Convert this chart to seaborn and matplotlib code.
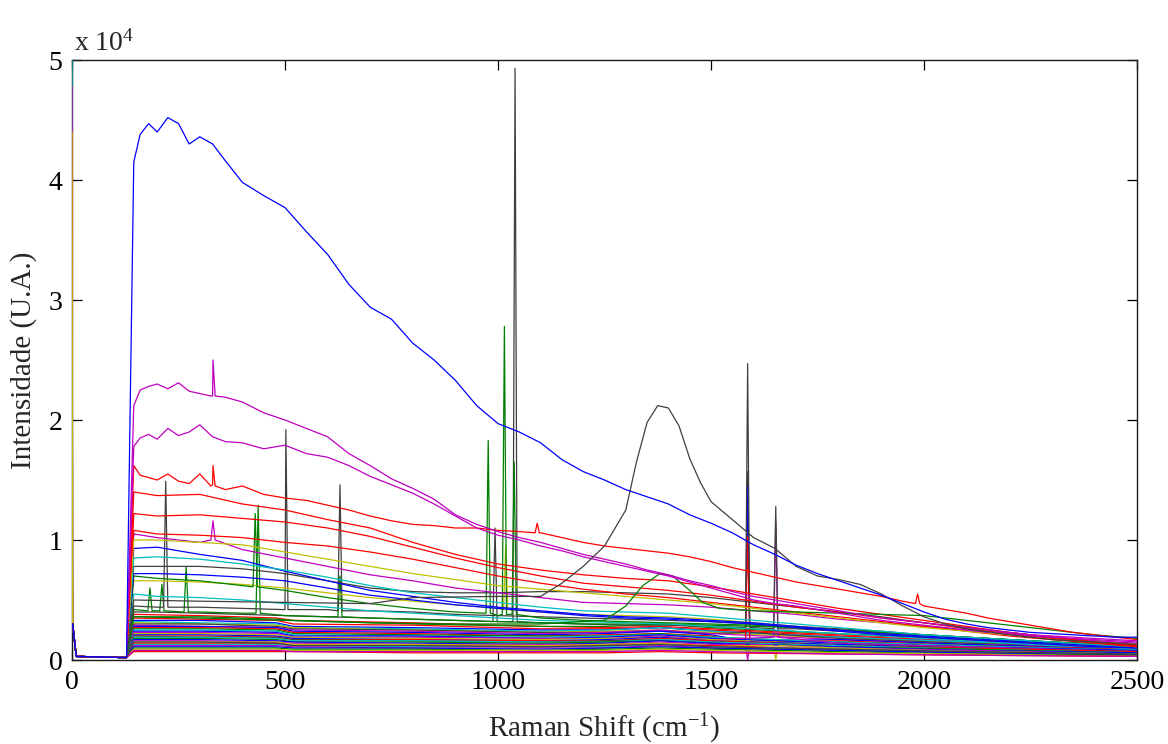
import numpy as np
import pandas as pd
import matplotlib
matplotlib.use("Agg")
import matplotlib.pyplot as plt
import seaborn as sns

# ---------------------------------------------------------------------------
# Raman spectra (intensity in units of 10^4 counts)
# ---------------------------------------------------------------------------
# Detector cut-off region shared by every spectrum (level at 0 cm-1 is per trace)
cutoff_shift = [0, 1.5, 10, 128]
cutoff_level = [None, 0.30, 0.03, 0.02]

# Fine grid used for the strongest spectra
main_shift = [145, 160, 180, 200, 225, 250, 275, 300, 330, 360,
              400, 450, 500, 550, 600, 650, 700, 750, 800, 850,
              900, 950, 1000, 1050, 1100, 1150, 1200, 1250, 1300, 1350,
              1400, 1450, 1500, 1550, 1600, 1650, 1700, 1750, 1800, 1850,
              1900, 1950, 2000, 2050, 2100, 2150, 2200, 2250, 2300, 2350,
              2400, 2450, 2500]

blue_top = [4.15, 4.38, 4.47, 4.40, 4.52, 4.47, 4.30, 4.36, 4.30, 4.16,
            3.98, 3.87, 3.77, 3.57, 3.38, 3.13, 2.94, 2.84, 2.64, 2.50,
            2.33, 2.12, 1.97, 1.90, 1.81, 1.67, 1.57, 1.50, 1.42, 1.36,
            1.30, 1.21, 1.14, 1.06, 0.96, 0.88, 0.79, 0.72, 0.66, 0.60,
            0.54, 0.47, 0.40, 0.34, 0.30, 0.27, 0.25, 0.23, 0.22, 0.21,
            0.20, 0.19, 0.19]

magenta_top = [2.12, 2.25, 2.28, 2.30, 2.26, 2.31, 2.24, 2.22, 2.20, 2.19,
               2.15, 2.06, 2.00, 1.93, 1.86, 1.72, 1.62, 1.51, 1.43, 1.34,
               1.21, 1.13, 1.07, 1.02, 0.98, 0.93, 0.88, 0.84, 0.80, 0.75,
               0.71, 0.66, 0.62, 0.57, 0.53, 0.50, 0.47, 0.44, 0.41, 0.38,
               0.35, 0.33, 0.31, 0.29, 0.27, 0.25, 0.23, 0.21, 0.20, 0.19,
               0.18, 0.17, 0.16]

magenta_second = [1.78, 1.85, 1.88, 1.84, 1.93, 1.87, 1.90, 1.96, 1.86, 1.82,
                  1.81, 1.76, 1.79, 1.72, 1.69, 1.62, 1.53, 1.46, 1.39, 1.30,
                  1.20, 1.10, 1.04, 1.00, 0.95, 0.91, 0.86, 0.82, 0.78, 0.74,
                  0.70, 0.65, 0.60, 0.55, 0.50, 0.47, 0.45, 0.42, 0.39, 0.36,
                  0.33, 0.31, 0.29, 0.27, 0.25, 0.23, 0.22, 0.20, 0.19, 0.18,
                  0.17, 0.16, 0.15]

red_first = [1.62, 1.54, 1.52, 1.50, 1.55, 1.49, 1.47, 1.55, 1.46, 1.42,
             1.45, 1.38, 1.35, 1.33, 1.29, 1.25, 1.20, 1.16, 1.13, 1.12,
             1.10, 1.10, 1.08, 1.07, 1.06, 1.02, 0.98, 0.95, 0.93, 0.91,
             0.89, 0.86, 0.82, 0.77, 0.73, 0.69, 0.65, 0.62, 0.59, 0.56,
             0.53, 0.49, 0.45, 0.42, 0.39, 0.35, 0.32, 0.29, 0.26, 0.23,
             0.21, 0.19, 0.17]

# Broad fluorescence bands
grey_band_shift = [145, 300, 500, 700, 800, 1000, 1100, 1150, 1200, 1250,
                   1300, 1325, 1350, 1375, 1400, 1425, 1450, 1475, 1500, 1550,
                   1600, 1650, 1700, 1750, 1800, 1850, 1900, 1950, 2000, 2050,
                   2100, 2200, 2300, 2400, 2500]
grey_band = [0.50, 0.49, 0.48, 0.47, 0.52, 0.53, 0.53, 0.64, 0.78, 0.95,
             1.25, 1.65, 1.98, 2.12, 2.10, 1.95, 1.68, 1.48, 1.32, 1.17,
             1.02, 0.93, 0.78, 0.70, 0.67, 0.63, 0.55, 0.45, 0.36, 0.30,
             0.26, 0.21, 0.17, 0.15, 0.13]

green_band_shift = [145, 300, 500, 700, 900, 1100, 1250, 1300, 1340, 1380,
                    1410, 1450, 1480, 1520, 1600, 1700, 1800, 1900, 2000, 2100,
                    2200, 2300, 2400, 2500]
green_band = [0.36, 0.35, 0.33, 0.31, 0.30, 0.30, 0.33, 0.45, 0.62, 0.72,
              0.70, 0.58, 0.48, 0.43, 0.41, 0.40, 0.39, 0.38, 0.37, 0.33,
              0.29, 0.25, 0.21, 0.18]

# Coarser grid for the intermediate spectra
coarse_shift = [145, 200, 300, 400, 500, 600, 700, 800, 900, 1000,
                1100, 1200, 1300, 1400, 1500, 1600, 1700, 1800, 1900, 2000,
                2100, 2200, 2300, 2400, 2500]

red_second = [1.40, 1.37, 1.38, 1.30, 1.25, 1.17, 1.10, 0.98, 0.88, 0.80, 0.75, 0.71, 0.68,
              0.66, 0.61, 0.55, 0.49, 0.43, 0.38, 0.33, 0.28, 0.23, 0.19, 0.15, 0.12]
red_third = [1.22, 1.20, 1.21, 1.18, 1.15, 1.10, 1.03, 0.94, 0.85, 0.77, 0.70, 0.64, 0.61,
             0.58, 0.54, 0.49, 0.44, 0.40, 0.35, 0.31, 0.26, 0.22, 0.18, 0.15, 0.12]
red_fourth = [1.08, 1.05, 1.04, 1.02, 0.98, 0.95, 0.90, 0.84, 0.77, 0.70, 0.64, 0.59, 0.55,
              0.52, 0.48, 0.44, 0.40, 0.36, 0.32, 0.28, 0.24, 0.20, 0.17, 0.14, 0.11]
magenta_third = [1.05, 1.02, 0.98, 0.92, 0.85, 0.78, 0.71, 0.66, 0.60, 0.56, 0.52, 0.48, 0.47,
                 0.46, 0.44, 0.41, 0.38, 0.34, 0.31, 0.28, 0.25, 0.22, 0.19, 0.16, 0.14]
yellow_first = [1.00, 1.00, 0.98, 0.96, 0.90, 0.84, 0.78, 0.72, 0.67, 0.62, 0.59, 0.56, 0.53,
                0.50, 0.47, 0.43, 0.39, 0.35, 0.31, 0.27, 0.24, 0.21, 0.18, 0.15, 0.13]
blue_second = [0.93, 0.94, 0.88, 0.83, 0.74, 0.66, 0.58, 0.53, 0.48, 0.44, 0.41, 0.38, 0.36,
               0.35, 0.33, 0.31, 0.28, 0.25, 0.22, 0.20, 0.18, 0.16, 0.14, 0.12, 0.10]
cyan_first = [0.85, 0.86, 0.84, 0.80, 0.75, 0.69, 0.62, 0.56, 0.52, 0.48, 0.44, 0.41, 0.40,
              0.39, 0.36, 0.33, 0.30, 0.27, 0.24, 0.21, 0.19, 0.17, 0.15, 0.13, 0.11]
grey_first = [0.78, 0.78, 0.78, 0.76, 0.72, 0.66, 0.60, 0.57, 0.56, 0.56, 0.57, 0.57, 0.56,
              0.55, 0.52, 0.48, 0.44, 0.40, 0.36, 0.31, 0.27, 0.23, 0.19, 0.16, 0.13]
blue_third = [0.72, 0.72, 0.71, 0.69, 0.66, 0.60, 0.54, 0.50, 0.46, 0.43, 0.40, 0.37, 0.35,
              0.34, 0.32, 0.30, 0.27, 0.24, 0.21, 0.19, 0.17, 0.15, 0.13, 0.11, 0.10]
green_first = [0.70, 0.68, 0.66, 0.62, 0.58, 0.52, 0.47, 0.43, 0.40, 0.37, 0.35, 0.33, 0.32,
               0.31, 0.30, 0.29, 0.27, 0.25, 0.23, 0.21, 0.19, 0.17, 0.15, 0.13, 0.11]
yellow_second = [0.66, 0.66, 0.65, 0.63, 0.60, 0.56, 0.52, 0.49, 0.46, 0.43, 0.40, 0.38, 0.37,
                 0.36, 0.34, 0.31, 0.28, 0.25, 0.22, 0.20, 0.18, 0.16, 0.14, 0.12, 0.10]
cyan_second = [0.55, 0.53, 0.52, 0.50, 0.47, 0.44, 0.41, 0.39, 0.37, 0.35, 0.33, 0.32, 0.31,
               0.30, 0.28, 0.26, 0.24, 0.22, 0.20, 0.18, 0.16, 0.14, 0.12, 0.11, 0.09]
grey_second = [0.45, 0.44, 0.44, 0.43, 0.42, 0.42, 0.41, 0.40, 0.38, 0.37, 0.36, 0.35, 0.34,
               0.33, 0.32, 0.30, 0.28, 0.26, 0.24, 0.21, 0.19, 0.17, 0.15, 0.13, 0.11]
green_second = [0.42, 0.41, 0.40, 0.39, 0.37, 0.36, 0.35, 0.34, 0.33, 0.32, 0.31, 0.30, 0.30,
                0.30, 0.29, 0.28, 0.27, 0.25, 0.23, 0.21, 0.19, 0.17, 0.15, 0.13, 0.11]
grey_third = [0.40, 0.40, 0.39, 0.38, 0.37, 0.36, 0.35, 0.34, 0.33, 0.32, 0.31, 0.30, 0.29,
              0.29, 0.28, 0.27, 0.26, 0.24, 0.22, 0.20, 0.18, 0.16, 0.14, 0.12, 0.10]

# Weak spectra forming the dense band near the baseline
bulk_shift = [145, 300, 480, 520, 800, 1100, 1250, 1380, 1500, 1800, 2100, 2500]
bulk_colors = ["r", "g", "r", "b", "c", "y", "k", "m", "b", "r", "g", "c", "b", "m", "y", "b",
               "r", "k", "c", "g", "b", "m", "y", "r", "c", "m", "b", "g", "y", "r", "m", "k"]
bulk_levels = [
    [0.38, 0.37, 0.35, 0.33, 0.31, 0.28, 0.27, 0.28, 0.26, 0.21, 0.17, 0.12],
    [0.36, 0.36, 0.34, 0.33, 0.30, 0.28, 0.28, 0.30, 0.27, 0.22, 0.17, 0.13],
    [0.35, 0.34, 0.33, 0.30, 0.29, 0.26, 0.26, 0.27, 0.25, 0.20, 0.16, 0.12],
    [0.33, 0.33, 0.31, 0.28, 0.27, 0.25, 0.25, 0.27, 0.24, 0.19, 0.15, 0.11],
    [0.32, 0.31, 0.30, 0.27, 0.26, 0.24, 0.25, 0.27, 0.24, 0.19, 0.15, 0.11],
    [0.31, 0.30, 0.29, 0.27, 0.25, 0.23, 0.24, 0.25, 0.23, 0.18, 0.14, 0.10],
    [0.30, 0.30, 0.28, 0.26, 0.25, 0.23, 0.23, 0.24, 0.22, 0.18, 0.14, 0.10],
    [0.29, 0.28, 0.27, 0.25, 0.24, 0.22, 0.23, 0.25, 0.22, 0.17, 0.13, 0.10],
    [0.28, 0.28, 0.27, 0.24, 0.23, 0.21, 0.22, 0.24, 0.21, 0.17, 0.13, 0.09],
    [0.27, 0.27, 0.26, 0.23, 0.22, 0.20, 0.21, 0.22, 0.20, 0.16, 0.12, 0.09],
    [0.26, 0.26, 0.25, 0.22, 0.21, 0.20, 0.20, 0.22, 0.19, 0.15, 0.12, 0.08],
    [0.25, 0.25, 0.24, 0.21, 0.20, 0.19, 0.20, 0.21, 0.19, 0.15, 0.12, 0.08],
    [0.24, 0.24, 0.23, 0.20, 0.20, 0.18, 0.19, 0.21, 0.18, 0.14, 0.11, 0.08],
    [0.23, 0.23, 0.22, 0.19, 0.19, 0.18, 0.18, 0.20, 0.17, 0.14, 0.11, 0.07],
    [0.22, 0.22, 0.21, 0.19, 0.18, 0.17, 0.18, 0.19, 0.17, 0.13, 0.10, 0.07],
    [0.21, 0.21, 0.20, 0.18, 0.17, 0.16, 0.17, 0.19, 0.16, 0.13, 0.10, 0.07],
    [0.20, 0.20, 0.19, 0.17, 0.17, 0.16, 0.16, 0.18, 0.16, 0.12, 0.10, 0.07],
    [0.20, 0.19, 0.19, 0.17, 0.16, 0.15, 0.16, 0.17, 0.15, 0.12, 0.09, 0.06],
    [0.19, 0.19, 0.18, 0.16, 0.16, 0.15, 0.15, 0.17, 0.15, 0.12, 0.09, 0.06],
    [0.18, 0.18, 0.17, 0.15, 0.15, 0.14, 0.15, 0.16, 0.14, 0.11, 0.09, 0.06],
    [0.17, 0.17, 0.16, 0.15, 0.14, 0.13, 0.14, 0.16, 0.14, 0.11, 0.08, 0.06],
    [0.16, 0.16, 0.15, 0.14, 0.13, 0.13, 0.13, 0.15, 0.13, 0.10, 0.08, 0.05],
    [0.15, 0.15, 0.15, 0.13, 0.13, 0.12, 0.13, 0.14, 0.12, 0.10, 0.07, 0.05],
    [0.14, 0.14, 0.14, 0.12, 0.12, 0.11, 0.12, 0.13, 0.12, 0.09, 0.07, 0.05],
    [0.13, 0.13, 0.13, 0.12, 0.11, 0.11, 0.11, 0.13, 0.11, 0.09, 0.07, 0.05],
    [0.12, 0.12, 0.12, 0.11, 0.10, 0.10, 0.10, 0.12, 0.10, 0.08, 0.06, 0.04],
    [0.11, 0.11, 0.11, 0.10, 0.10, 0.09, 0.10, 0.11, 0.10, 0.08, 0.06, 0.04],
    [0.10, 0.10, 0.10, 0.09, 0.09, 0.08, 0.09, 0.10, 0.09, 0.07, 0.05, 0.04],
    [0.09, 0.09, 0.09, 0.08, 0.08, 0.08, 0.08, 0.09, 0.08, 0.06, 0.05, 0.03],
    [0.07, 0.07, 0.07, 0.07, 0.06, 0.06, 0.06, 0.07, 0.06, 0.05, 0.04, 0.03],
    [0.08, 0.08, 0.08, 0.07, 0.07, 0.07, 0.07, 0.08, 0.07, 0.05, 0.04, 0.03],
    [0.15, 0.15, 0.14, 0.12, 0.12, 0.11, 0.12, 0.13, 0.11, 0.09, 0.07, 0.05],
]

# Sharp lines: trace, Raman shift, baseline under the line, line maximum
spike_trace = ["magenta_top", "red_first", "red_first", "red_first", "magenta_third",
               "grey_second", "grey_second", "grey_second",
               "grey_third", "grey_third", "grey_third", "grey_third",
               "green_second", "green_second", "green_second", "green_second", "green_second",
               "green_first", "green_first", "green_first", "green_first", "yellow_second",
               "bulk_09", "bulk_08", "bulk_06", "bulk_21", "bulk_13", "bulk_22"]
spike_shift = [331, 331, 1092, 1985, 331,
               220, 502, 629,
               1040, 993, 1586, 1652,
               183, 211, 268, 437, 629,
               430, 977, 1015, 1038, 1018,
               1586, 1586, 1586, 1586, 1652, 1652]
spike_base = [2.20, 1.45, 1.06, 0.47, 1.00,
              0.44, 0.42, 0.41,
              0.32, 0.32, 0.27, 0.26,
              0.41, 0.41, 0.40, 0.39, 0.36,
              0.61, 0.39, 0.38, 0.38, 0.42,
              0.15, 0.16, 0.23, 0.13, 0.19, 0.12]
spike_peak = [2.50, 1.62, 1.14, 0.55, 1.16,
              1.49, 1.92, 1.46,
              4.93, 1.10, 2.47, 1.28,
              0.60, 0.63, 0.78, 1.29, 0.70,
              1.22, 1.83, 2.78, 1.65, 0.95,
              1.03, 1.45, 1.57, 0.00, 1.15, 0.00]

# Level at 0 cm-1 (laser line remnant)
edge_trace = ["cyan_first", "magenta_third", "yellow_first", "red_fourth"]
edge_level = [5.20, 4.78, 4.40, 4.40]
default_edge = 0.30

matlab_colors = {"b": (0, 0, 1), "g": (0, 0.5, 0), "r": (1, 0, 0), "c": (0, 0.75, 0.75),
                 "m": (0.75, 0, 0.75), "y": (0.75, 0.75, 0), "k": (0.25, 0.25, 0.25)}

# ---------------------------------------------------------------------------
# Assemble traces in drawing order (weak ones first)
# ---------------------------------------------------------------------------
traces = []
for i, (col, lev) in enumerate(zip(bulk_colors, bulk_levels)):
    traces.append((f"bulk_{i:02d}", col, bulk_shift, lev))
traces += [
    ("grey_third", "k", coarse_shift, grey_third),
    ("green_second", "g", coarse_shift, green_second),
    ("grey_second", "k", coarse_shift, grey_second),
    ("cyan_second", "c", coarse_shift, cyan_second),
    ("yellow_second", "y", coarse_shift, yellow_second),
    ("green_first", "g", coarse_shift, green_first),
    ("blue_third", "b", coarse_shift, blue_third),
    ("grey_first", "k", coarse_shift, grey_first),
    ("blue_second", "b", coarse_shift, blue_second),
    ("cyan_first", "c", coarse_shift, cyan_first),
    ("magenta_third", "m", coarse_shift, magenta_third),
    ("red_fourth", "r", coarse_shift, red_fourth),
    ("yellow_first", "y", coarse_shift, yellow_first),
    ("red_third", "r", coarse_shift, red_third),
    ("red_second", "r", coarse_shift, red_second),
    ("green_band", "g", green_band_shift, green_band),
    ("red_first", "r", main_shift, red_first),
    ("magenta_second", "m", main_shift, magenta_second),
    ("magenta_top", "m", main_shift, magenta_top),
    ("grey_band", "k", grey_band_shift, grey_band),
    ("blue_top", "b", main_shift, blue_top),
]

half_width = 5  # half base width of a sharp line, cm-1
rows = []
palette = {}
for name, col, shift, level in traces:
    edge = edge_level[edge_trace.index(name)] if name in edge_trace else default_edge
    xs = list(cutoff_shift) + list(shift)
    ys = [edge] + cutoff_level[1:] + list(level)
    for t, s, b, p in zip(spike_trace, spike_shift, spike_base, spike_peak):
        if t == name:
            xs += [s - half_width, s, s + half_width]
            ys += [b, p, b]
    order = np.argsort(xs, kind="stable")
    for k in order:
        rows.append((name, xs[k], ys[k]))
    palette[name] = matlab_colors[col]

df = pd.DataFrame(rows, columns=["trace", "shift", "intensity"])

# ---------------------------------------------------------------------------
# Figure
# ---------------------------------------------------------------------------
sns.set_theme(style="white")
plt.rcParams["font.family"] = ["Liberation Serif", "DejaVu Serif"]
plt.rcParams["mathtext.fontset"] = "custom"
plt.rcParams["mathtext.rm"] = "Liberation Serif"
plt.rcParams["mathtext.it"] = "Liberation Serif:italic"

fig = plt.figure(figsize=(11.68, 7.44), dpi=100)
ax = fig.add_axes([72 / 1168, 84 / 744, 1065 / 1168, 600 / 744])

sns.lineplot(data=df, x="shift", y="intensity", hue="trace", hue_order=list(palette),
             palette=palette, estimator=None, sort=False, legend=False,
             linewidth=0.9, ax=ax)
# spectra are drawn over the frame, so the 0 cm-1 line shows on the left edge
for ln in ax.lines:
    ln.set_zorder(3)

ax.set_xlim(0, 2500)
ax.set_ylim(0, 5)
ax.set_xticks([0, 500, 1000, 1500, 2000, 2500])
ax.set_yticks([0, 1, 2, 3, 4, 5])
ax.set_yticklabels(["0", "1", "2", "3", "4", "5"])
ax.tick_params(direction="in", length=7, width=0.9, top=True, right=True,
               bottom=True, left=True, labelsize=20, colors="black", pad=7)
for sp in ax.spines.values():
    sp.set_color("0.1")
    sp.set_linewidth(1.0)

ax.set_xlabel("Raman Shift (cm$^{\\mathrm{-1}}$)", fontsize=21, labelpad=12)
ax.set_ylabel("Intensidade (U.A.)", fontsize=21, labelpad=8)
ax.text(0.002, 1.006, "x 10$^{4}$", transform=ax.transAxes, ha="left", va="bottom",
        fontsize=20)

fig.savefig("out.png", dpi=100)
